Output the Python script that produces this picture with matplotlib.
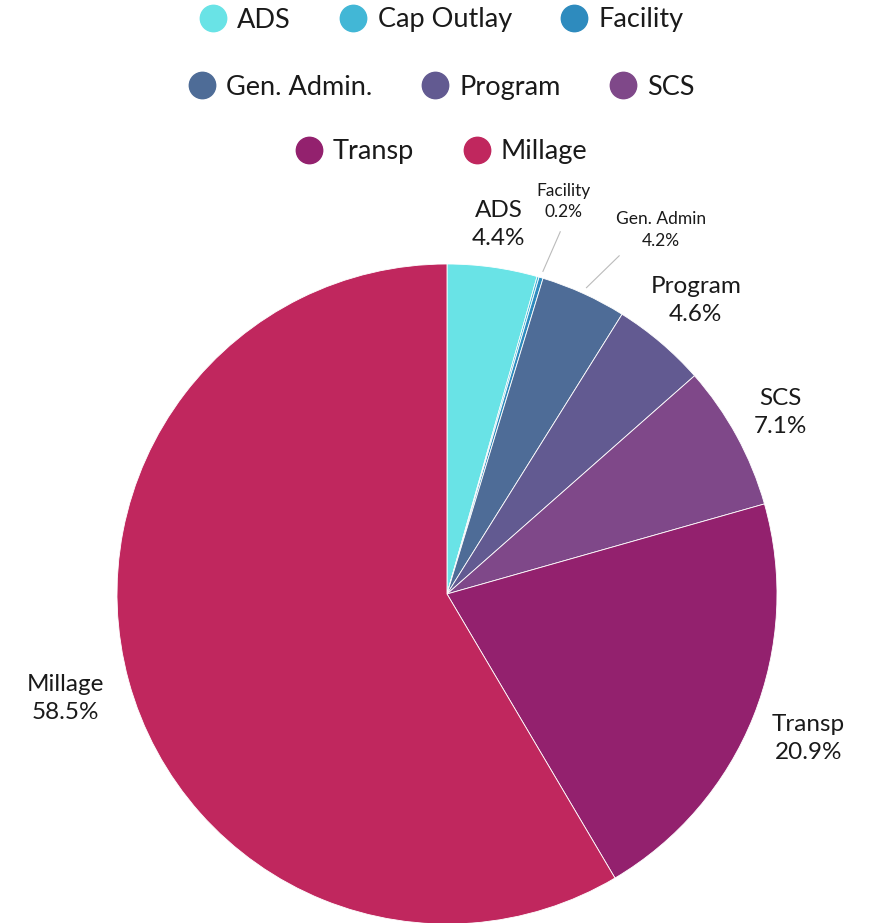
import matplotlib.pyplot as plt
import numpy as np
from matplotlib.lines import Line2D

plt.rcParams['font.family'] = ['Lato', 'DejaVu Sans']

categories = ["ADS", "Cap Outlay", "Facility", "Gen. Admin.", "Program", "SCS", "Transp", "Millage"]
shares = [4.4, 0.1, 0.2, 4.2, 4.6, 7.1, 20.9, 58.5]
slice_labels = ["ADS", None, "Facility", "Gen. Admin", "Program", "SCS", "Transp", "Millage"]
colors = ["#69e3e6", "#42b7d6", "#2e8bbe", "#4e6c97", "#625a91", "#7f4889", "#93216e", "#c0275e"]

# label placement: radius, fontsize, leader line
label_r = [1.13, None, 1.24, 1.28, 1.165, 1.15, 1.18, 1.2]
label_fs = [17.5, None, 12.5, 12.5, 17.5, 17.5, 17.5, 17.5]
leader = [False, False, True, True, False, False, False, False]

fig = plt.figure(figsize=(8.7, 9.23), dpi=100)
ax = fig.add_axes([(447 - 330) / 870, -1 / 923, 660 / 870, 660 / 923])
wedges, _ = ax.pie(shares, colors=colors, startangle=90, counterclock=False,
                   wedgeprops=dict(edgecolor="white", linewidth=0.6))
ax.set_xlim(-1, 1)
ax.set_ylim(-1, 1)
ax.set_aspect("equal")
ax.axis("off")

total = sum(shares)
for w, lab, r, fs, ld, v in zip(wedges, slice_labels, label_r, label_fs, leader, shares):
    if lab is None:
        continue
    ang = np.deg2rad((w.theta1 + w.theta2) / 2)
    if lab == "Gen. Admin":
        ang_t = ang - np.deg2rad(6)
    else:
        ang_t = ang
    x, y = r * np.cos(ang_t), r * np.sin(ang_t)
    ax.text(x, y, f"{lab}\n{v / total * 100:.1f}%", ha="center", va="center",
            fontsize=fs, color="#1a1a1a", linespacing=1.4, clip_on=False)
    if ld:
        a2 = ang - (np.deg2rad(2.5) if lab == "Gen. Admin" else np.deg2rad(0.8))
        ax.plot([1.02 * np.cos(ang), 1.15 * np.cos(a2)],
                [1.02 * np.sin(ang), 1.15 * np.sin(a2)],
                color="#bbbbbb", lw=0.8, clip_on=False)

handles = [Line2D([], [], marker="o", linestyle="none", markersize=19,
                  markerfacecolor=c, markeredgecolor=c) for c in colors]
rows = [(0, 3, 1 - 20 / 923), (3, 6, 1 - 87 / 923), (6, 8, 1 - 152 / 923)]
for a, b, yy in rows:
    leg = fig.legend(handles[a:b], categories[a:b], loc="center", ncol=b - a,
                     bbox_to_anchor=(440 / 870, yy), frameon=False, fontsize=19.5,
                     handletextpad=0.3, columnspacing=1.7, handlelength=1.2,
                     borderpad=0, borderaxespad=0)
    for t in leg.get_texts():
        t.set_color("#1a1a1a")

fig.savefig("out.png", dpi=100)
